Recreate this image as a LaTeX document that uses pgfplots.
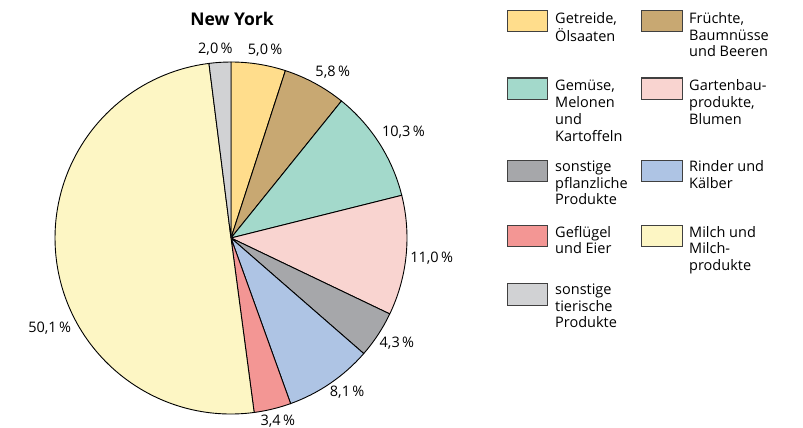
\documentclass[border=0pt]{standalone}
\usepackage{pgfplots}
\pgfplotsset{compat=1.18}
\usepackage{pgfplotstable}
\usepackage{fontspec}
\setmainfont{Open Sans}
\definecolor{c0}{HTML}{FFDD8C}
\definecolor{c1}{HTML}{C8A872}
\definecolor{c2}{HTML}{A3D9CB}
\definecolor{c3}{HTML}{F9D4D0}
\definecolor{c4}{HTML}{A6A7AA}
\definecolor{c5}{HTML}{AEC4E4}
\definecolor{c6}{HTML}{F39694}
\definecolor{c7}{HTML}{FDF6C4}
\definecolor{c8}{HTML}{D1D2D4}
\newcommand\lbl{\fontsize{14.5}{16.7}\selectfont}
\newcommand\lines[1]{\begin{tabular}[t]{@{}l@{}}#1\end{tabular}}
% value = share in percent, off = shift of the label from the slice middle (deg), rad = label distance
\pgfplotstableread{
value off rad
5.0 -1.3 182
5.8 -3.0 185
10.3 -1.0 186
11.0 0 178
4.3 1.0 181
8.1 2.6 183
3.4 0.7 180
50.1 19.2 183.5
2.0 1.1 181.5
}\piedata
\begin{document}
\begin{tikzpicture}
\useasboundingbox (0,0) rectangle (803pt,428pt);
\begin{axis}[x=1pt,y=1pt,xmin=0,xmax=803,ymin=0,ymax=428,y dir=reverse,
  hide axis,clip=false,at={(0,0)},anchor=south west]
\pgfplotstablegetrowsof{\piedata}
\pgfmathtruncatemacro\N{\pgfplotsretval-1}
\def\cum{0}
\pgfplotsforeachungrouped \i in {0,...,\N}{%
  \pgfplotstablegetelem{\i}{value}\of\piedata \let\v\pgfplotsretval
  \pgfplotstablegetelem{\i}{off}\of\piedata \let\o\pgfplotsretval
  \pgfplotstablegetelem{\i}{rad}\of\piedata \let\rr\pgfplotsretval
  \pgfmathsetmacro\sa{90-3.6*\cum}%
  \pgfmathsetmacro\ea{90-3.6*(\cum+\v)}%
  \pgfmathsetmacro\ma{(\sa+\ea)/2+\o}%
  \pgfmathsetmacro\an{\ma+180}%
  \pgfmathsetmacro\cum{\cum+\v}%
  \edef\temp{%
    \noexpand\filldraw[fill=c\i,draw=black,line width=0.9pt,line join=round]
      (axis cs:231,238) -- ++(\sa:176pt) arc[start angle=\sa,end angle=\ea,radius=176pt] -- cycle;
    \noexpand\node[anchor=\an,inner sep=2pt,font=\noexpand\lbl]
      at ([shift={(\ma:\rr pt)}]axis cs:231,238)
      {\noexpand\pgfmathprintnumber[fixed,fixed zerofill,precision=1,use comma,assume math mode=true]{\v}\noexpand\,\noexpand\%};
  }\temp
}
\node[font=\bfseries\fontsize{17.5}{20}\selectfont,anchor=base] at (axis cs:232,26) {New York};
% legend
\tikzset{sw/.style={draw=black!75,line width=1pt},lt/.style={anchor=base west,font=\lbl,inner sep=0pt}}
\draw[sw,fill=c0] (axis cs:507,11) rectangle (axis cs:547,32);
\node[lt] at (axis cs:555,23.5) {\lines{Getreide,\\Ölsaaten}};
\draw[sw,fill=c1] (axis cs:641,11) rectangle (axis cs:682,32);
\node[lt] at (axis cs:689,23.5) {\lines{Früchte,\\Baumnüsse\\und Beeren}};
\draw[sw,fill=c2] (axis cs:507,78) rectangle (axis cs:547,99);
\node[lt] at (axis cs:555,91) {\lines{Gemüse,\\Melonen\\und\\Kartoffeln}};
\draw[sw,fill=c3] (axis cs:641,78) rectangle (axis cs:682,99);
\node[lt] at (axis cs:689,91) {\lines{Gartenbau-\\produkte,\\Blumen}};
\draw[sw,fill=c4] (axis cs:507,160) rectangle (axis cs:547,181);
\node[lt] at (axis cs:555,171.5) {\lines{sonstige\\pflanzliche\\Produkte}};
\draw[sw,fill=c5] (axis cs:641,160) rectangle (axis cs:682,181);
\node[lt] at (axis cs:689,171.5) {\lines{Rinder und\\Kälber}};
\draw[sw,fill=c6] (axis cs:507,225) rectangle (axis cs:547,246);
\node[lt] at (axis cs:555,237) {\lines{Geflügel\\und Eier}};
\draw[sw,fill=c7] (axis cs:641,225) rectangle (axis cs:682,246);
\node[lt] at (axis cs:689,237) {\lines{Milch und\\Milch-\\produkte}};
\draw[sw,fill=c8] (axis cs:507,283) rectangle (axis cs:547,305);
\node[lt] at (axis cs:555,294.5) {\lines{sonstige\\tierische\\Produkte}};
\end{axis}
\end{tikzpicture}
\end{document}
